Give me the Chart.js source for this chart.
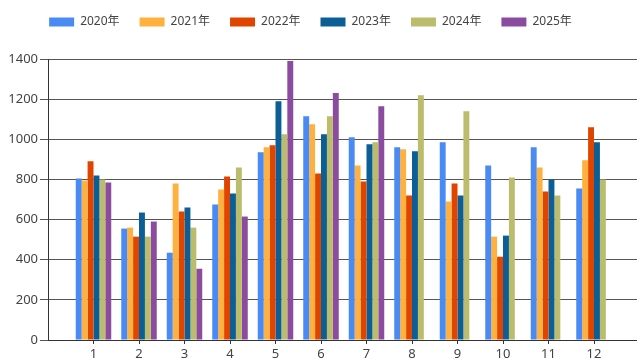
<!DOCTYPE html>
<html>
<head>
<meta charset="utf-8">
<script src="https://cdn.jsdelivr.net/npm/chart.js@4"></script>
<style>
  html, body { margin: 0; padding: 0; background: #fff; }
  #wrap { width: 637px; height: 363px; }
</style>
</head>
<body>
<div id="wrap"><canvas id="myChart"></canvas></div>
<script>
// months on the x axis
const months = [1, 2, 3, 4, 5, 6, 7, 8, 9, 10, 11, 12];
const yearLabels = ['2020年', '2021年', '2022年', '2023年', '2024年', '2025年'];
const yearColors = ['#4a8af4', '#ffb13f', '#e04500', '#0b5e96', '#bcbd6c', '#8b4b9e'];

// values
const v2020 = [805, 555, 435, 675, 935, 1115, 1010, 960, 985, 870, 960, 755];
const v2021 = [795, 560, 780, 750, 960, 1075, 870, 950, 690, 515, 860, 895];
const v2022 = [890, 515, 640, 815, 970, 830, 790, 720, 780, 415, 740, 1060];
const v2023 = [820, 635, 660, 730, 1190, 1025, 975, 940, 720, 520, 800, 985];
const v2024 = [800, 515, 560, 860, 1025, 1115, 985, 1220, 1140, 810, 720, 800];
const v2025 = [785, 590, 355, 615, 1390, 1230, 1165, null, null, null, null, null];

const yTicks = [0, 200, 400, 600, 800, 1000, 1200, 1400];

const allValues = [v2020, v2021, v2022, v2023, v2024, v2025];

function toPoints(values) {
  return months.map((m, i) => ({ x: m, y: values[i] }));
}

const datasets = allValues.map((vals, i) => ({
  label: yearLabels[i],
  data: toPoints(vals),
  backgroundColor: yearColors[i],
  borderWidth: 0,
  categoryPercentage: 0.78,
  barPercentage: 1.0
}));

// make the legend box take the space above the plot, nudge it left a bit
const legendFit = {
  id: 'legendFit',
  beforeInit(chart) {
    const fit = chart.legend.fit;
    chart.legend.fit = function () {
      fit.bind(chart.legend)();
      this.height = 63;
    };
  },
  afterLayout(chart) {
    chart.legend.left -= 8;
    chart.legend.right -= 8;
  }
};

const font = 'Noto Sans, Noto Sans CJK SC, sans-serif';

new Chart(document.getElementById('myChart'), {
  type: 'bar',
  data: { datasets: datasets },
  plugins: [legendFit],
  options: {
    responsive: true,
    maintainAspectRatio: false,
    animation: false,
    layout: { padding: { top: -4, left: 0, right: 0, bottom: 0 } },
    plugins: {
      tooltip: { enabled: false },
      legend: {
        position: 'top',
        labels: {
          boxWidth: 25,
          boxHeight: 9,
          padding: 20,
          color: '#444',
          font: { family: font, size: 12 }
        }
      }
    },
    scales: {
      x: {
        type: 'linear',
        offset: false,
        min: 0,
        max: 12.945,
        afterBuildTicks(scale) {
          scale.ticks = months.map(m => ({ value: m }));
        },
        afterFit(scale) { scale.height = 23; },
        grid: { offset: false, drawOnChartArea: false, drawTicks: true, tickLength: 4, color: '#333' },
        border: { color: '#333', width: 1 },
        ticks: {
          color: '#444',
          padding: 2,
          maxRotation: 0,
          autoSkip: false,
          font: { family: font, size: 13 }
        }
      },
      y: {
        min: 0,
        max: 1400,
        afterBuildTicks(scale) {
          scale.ticks = yTicks.map(v => ({ value: v }));
        },
        afterFit(scale) { scale.width = 48; },
        grid: { color: '#555', tickLength: 8, lineWidth: 1 },
        border: { color: '#333', width: 1 },
        ticks: {
          color: '#444',
          padding: 2,
          callback: v => String(v),
          font: { family: font, size: 13 }
        }
      }
    }
  }
});
</script>
</body>
</html>
